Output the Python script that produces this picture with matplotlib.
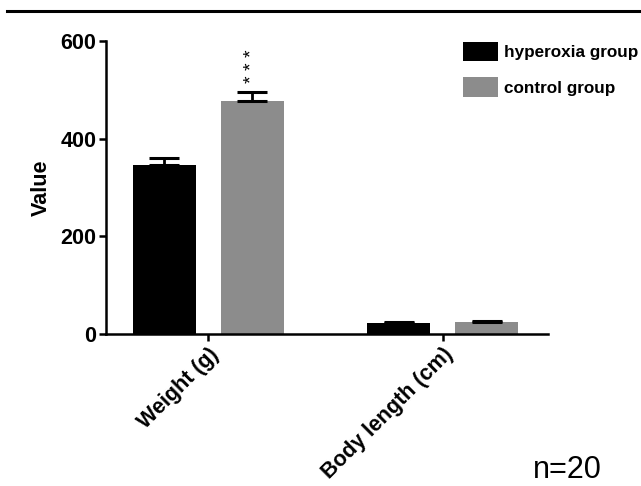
import matplotlib
matplotlib.use("Agg")
import matplotlib.pyplot as plt
import numpy as np
from matplotlib.patches import Patch
from matplotlib.lines import Line2D

categories = ["Weight (g)", "Body length (cm)"]
hyperoxia = [347, 23]
hyperoxia_err = [14, 1]
control = [478, 25.5]
control_err = [18, 0.5]
series_names = ["hyperoxia group", "control group"]
colors = ["#000000", "#8c8c8c"]
yticks = [0, 200, 400, 600]

plt.rcParams['font.family'] = ['Liberation Sans', 'DejaVu Sans']

fig = plt.figure(figsize=(6.41, 4.86), dpi=100)
ax = fig.add_axes([106/641, 152/486, (548-106)/641, (445-152)/486])

x = np.arange(len(categories))
off = 0.1876
w = 0.2687
ax.bar(x - off, hyperoxia, width=w, color=colors[0], zorder=2)
ax.bar(x + off, control, width=w, color=colors[1], zorder=2)
ax.errorbar(x - off, hyperoxia, yerr=[np.zeros(2), hyperoxia_err], fmt='none',
            ecolor='black', elinewidth=2, capsize=10.5, capthick=2.2, zorder=1)
ax.errorbar(x + off, control, yerr=[np.zeros(2), control_err], fmt='none',
            ecolor='black', elinewidth=2, capsize=10.5, capthick=2.2, zorder=3)

ax.text(x[0] + off, control[0] + control_err[0] + 18, "* * *", rotation=90,
        ha='center', va='bottom', fontsize=14, linespacing=1.0)

ax.set_xlim(-0.437, 1.448)
ax.set_ylim(0, 600)
ax.set_yticks(yticks)
ax.set_yticklabels([str(v) for v in yticks], fontsize=15.5, fontweight='bold')
ax.set_xticks(x)
ax.set_xticklabels(categories, rotation=45, ha='right', rotation_mode='anchor',
                   fontsize=15.5, fontweight='bold')
ax.set_ylabel("Value", fontsize=15.5, fontweight='bold', labelpad=6)

for s in ['top', 'right']:
    ax.spines[s].set_visible(False)
for s in ['left', 'bottom']:
    ax.spines[s].set_linewidth(1.8)
ax.tick_params(axis='both', width=1.8, length=5, pad=2)

handles = [Patch(facecolor=c, edgecolor='none') for c in colors]
fig.legend(handles, series_names, loc='upper left', bbox_to_anchor=(463/641, 1 - 42/486),
           frameon=False, prop={'weight': 'bold', 'size': 12.3},
           handlelength=2.05, handleheight=1.35, handletextpad=0.35, labelspacing=0.95,
           borderaxespad=0, borderpad=0)

fig.text(567/641, 1 - 470/486, "n=20", ha='center', va='center', fontsize=22)
fig.add_artist(Line2D([7/641, 1.0], [1 - 11/486, 1 - 11/486], color='black', linewidth=2.2))

fig.savefig("out.png", dpi=100)
